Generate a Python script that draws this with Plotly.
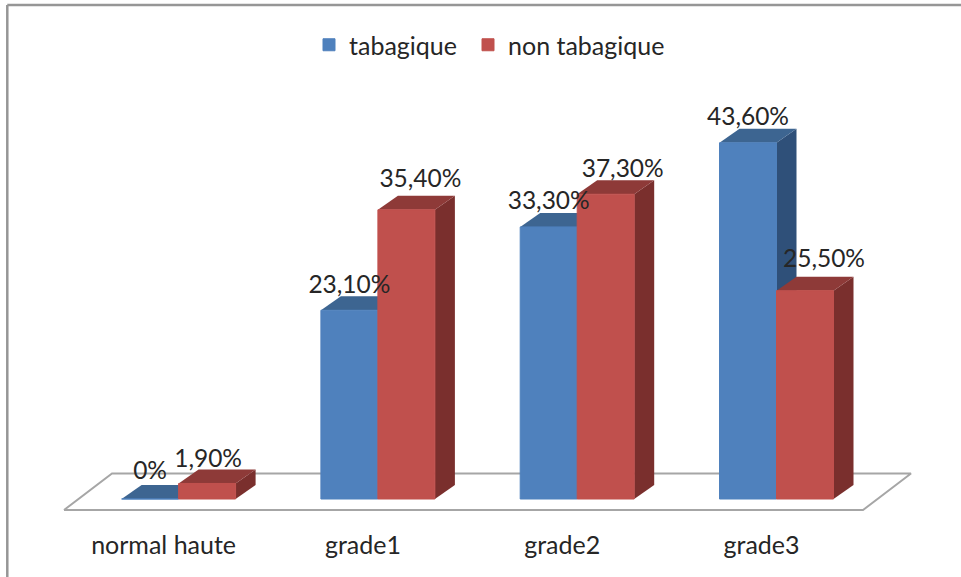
import plotly.graph_objects as go

CATEGORIES = ["normal haute", "grade1", "grade2", "grade3"]
TABAGIQUE = [0, 23.1, 33.3, 43.6]
NON_TABAGIQUE = [1.9, 35.4, 37.3, 25.5]

# pixels per unit, the whole picture is laid out against these
PX_X = 199.3
PX_Y = 8.17
ZERO_X = 178.6  # centre of the first group
ZERO_Y = 499
PLOT_BOTTOM = 515

BAR_W = 57 / PX_X
DEPTH_X = 20 / PX_X
DEPTH_Y = 14 / PX_Y

BLUE = ("#4F81BD", "#3D6591", "#2F5079")
RED = ("#C0504D", "#8E3A38", "#7A2F2D")
TEXT = "#262626"
FONT = "Lato"

# label nudges in pixels, the original labels were not placed regularly
BLUE_LABEL_DX = [0, 0, 0, 0]
BLUE_LABEL_DY = [26, 23, 24, 24]
RED_LABEL_DX = [1, 14, 17, 19]
RED_LABEL_DY = [23, 29, 23, 30]


def percent(value):
    if value == 0:
        return "0%"
    return f"{value:.2f}".replace(".", ",") + "%"


def add_series(fig, name, values, colors, left, z, legend):
    # side and top faces first so the front bar covers their seams
    for i, value in enumerate(values):
        x0 = i + left
        x1 = x0 + BAR_W
        fig.add_trace(
            go.Scatter(
                x=[x1, x1 + DEPTH_X, x1 + DEPTH_X, x1, x1],
                y=[0, DEPTH_Y, value + DEPTH_Y, value, 0],
                fill="toself",
                fillcolor=colors[2],
                mode="none",
                showlegend=False,
                hoverinfo="skip",
                zorder=z,
            )
        )
        fig.add_trace(
            go.Scatter(
                x=[x0, x0 + DEPTH_X, x1 + DEPTH_X, x1, x0],
                y=[value, value + DEPTH_Y, value + DEPTH_Y, value, value],
                fill="toself",
                fillcolor=colors[1],
                mode="none",
                showlegend=False,
                hoverinfo="skip",
                zorder=z,
            )
        )
    fig.add_trace(
        go.Bar(
            x=list(range(len(values))),
            y=values,
            name=name,
            width=BAR_W,
            offset=left,
            marker=dict(color=colors[0], line=dict(width=1, color=colors[0])),
            legend=legend,
            zorder=z + 1,
        )
    )


def add_labels(fig, values, left, dx, dy):
    fig.add_trace(
        go.Scatter(
            x=[i + left + BAR_W / 2 + dx[i] / PX_X for i in range(len(values))],
            y=[v + dy[i] / PX_Y for i, v in enumerate(values)],
            text=[percent(v) for v in values],
            mode="text",
            textposition="middle center",
            textfont=dict(family=FONT, size=24.5, color=TEXT),
            showlegend=False,
            hoverinfo="skip",
            cliponaxis=False,
            zorder=10,
        )
    )


def legend_at(left):
    return dict(
        orientation="h",
        x=left / 961,
        xanchor="left",
        y=1 - 45 / PLOT_BOTTOM,
        yanchor="middle",
        font=dict(family=FONT, size=25, color=TEXT),
        bgcolor="rgba(0,0,0,0)",
    )


fig = go.Figure()

# floor of the 3d chart
floor_left = (64 - ZERO_X) / PX_X
floor_right = (863 - ZERO_X) / PX_X
floor_front = (ZERO_Y - 510) / PX_Y
floor_back = (ZERO_Y - 473.5) / PX_Y
floor_dx = 48 / PX_X
fig.add_trace(
    go.Scatter(
        x=[
            floor_left,
            floor_left + floor_dx,
            floor_right + floor_dx,
            floor_right,
            floor_left,
        ],
        y=[floor_front, floor_back, floor_back, floor_front, floor_front],
        mode="lines",
        line=dict(color="#A6A6A6", width=2),
        showlegend=False,
        hoverinfo="skip",
        zorder=0,
    )
)

add_series(fig, "tabagique", TABAGIQUE, BLUE, -BAR_W, 1, "legend")
add_series(fig, "non tabagique", NON_TABAGIQUE, RED, 0, 3, "legend2")
add_labels(fig, TABAGIQUE, -BAR_W, BLUE_LABEL_DX, BLUE_LABEL_DY)
add_labels(fig, NON_TABAGIQUE, 0, RED_LABEL_DX, RED_LABEL_DY)

# frame of the pasted picture, only top and left survive in the original
frame_x = 7.3 / 961
frame_y = 1 - 5 / PLOT_BOTTOM
frame_bottom = 1 - 577 / PLOT_BOTTOM
frame = dict(type="line", xref="paper", yref="paper", line=dict(color="#969696", width=2.5))

fig.update_layout(
    width=961,
    height=577,
    margin=dict(l=0, r=0, t=0, b=577 - PLOT_BOTTOM),
    barmode="overlay",
    plot_bgcolor="white",
    paper_bgcolor="white",
    font=dict(family=FONT, size=25, color=TEXT),
    xaxis=dict(
        range=[-ZERO_X / PX_X, (961 - ZERO_X) / PX_X],
        tickvals=[i - 15 / PX_X for i in range(len(CATEGORIES))],
        ticktext=CATEGORIES,
        ticks="outside",
        ticklen=8,
        tickcolor="rgba(0,0,0,0)",
        showgrid=False,
        zeroline=False,
        showline=False,
    ),
    yaxis=dict(
        range=[(ZERO_Y - PLOT_BOTTOM) / PX_Y, ZERO_Y / PX_Y],
        visible=False,
    ),
    # two legends because the entries sit further apart than one legend allows
    legend=legend_at(309),
    legend2=legend_at(468),
    shapes=[
        dict(frame, x0=frame_x, x1=1, y0=frame_y, y1=frame_y),
        dict(frame, x0=frame_x, x1=frame_x, y0=frame_y, y1=frame_bottom),
    ],
    showlegend=True,
)

# the page's default body margin would push everything by 8px
fig.write_html(
    "out.html",
    config=dict(displayModeBar=False),
    post_script="document.body.style.margin='0';",
)
